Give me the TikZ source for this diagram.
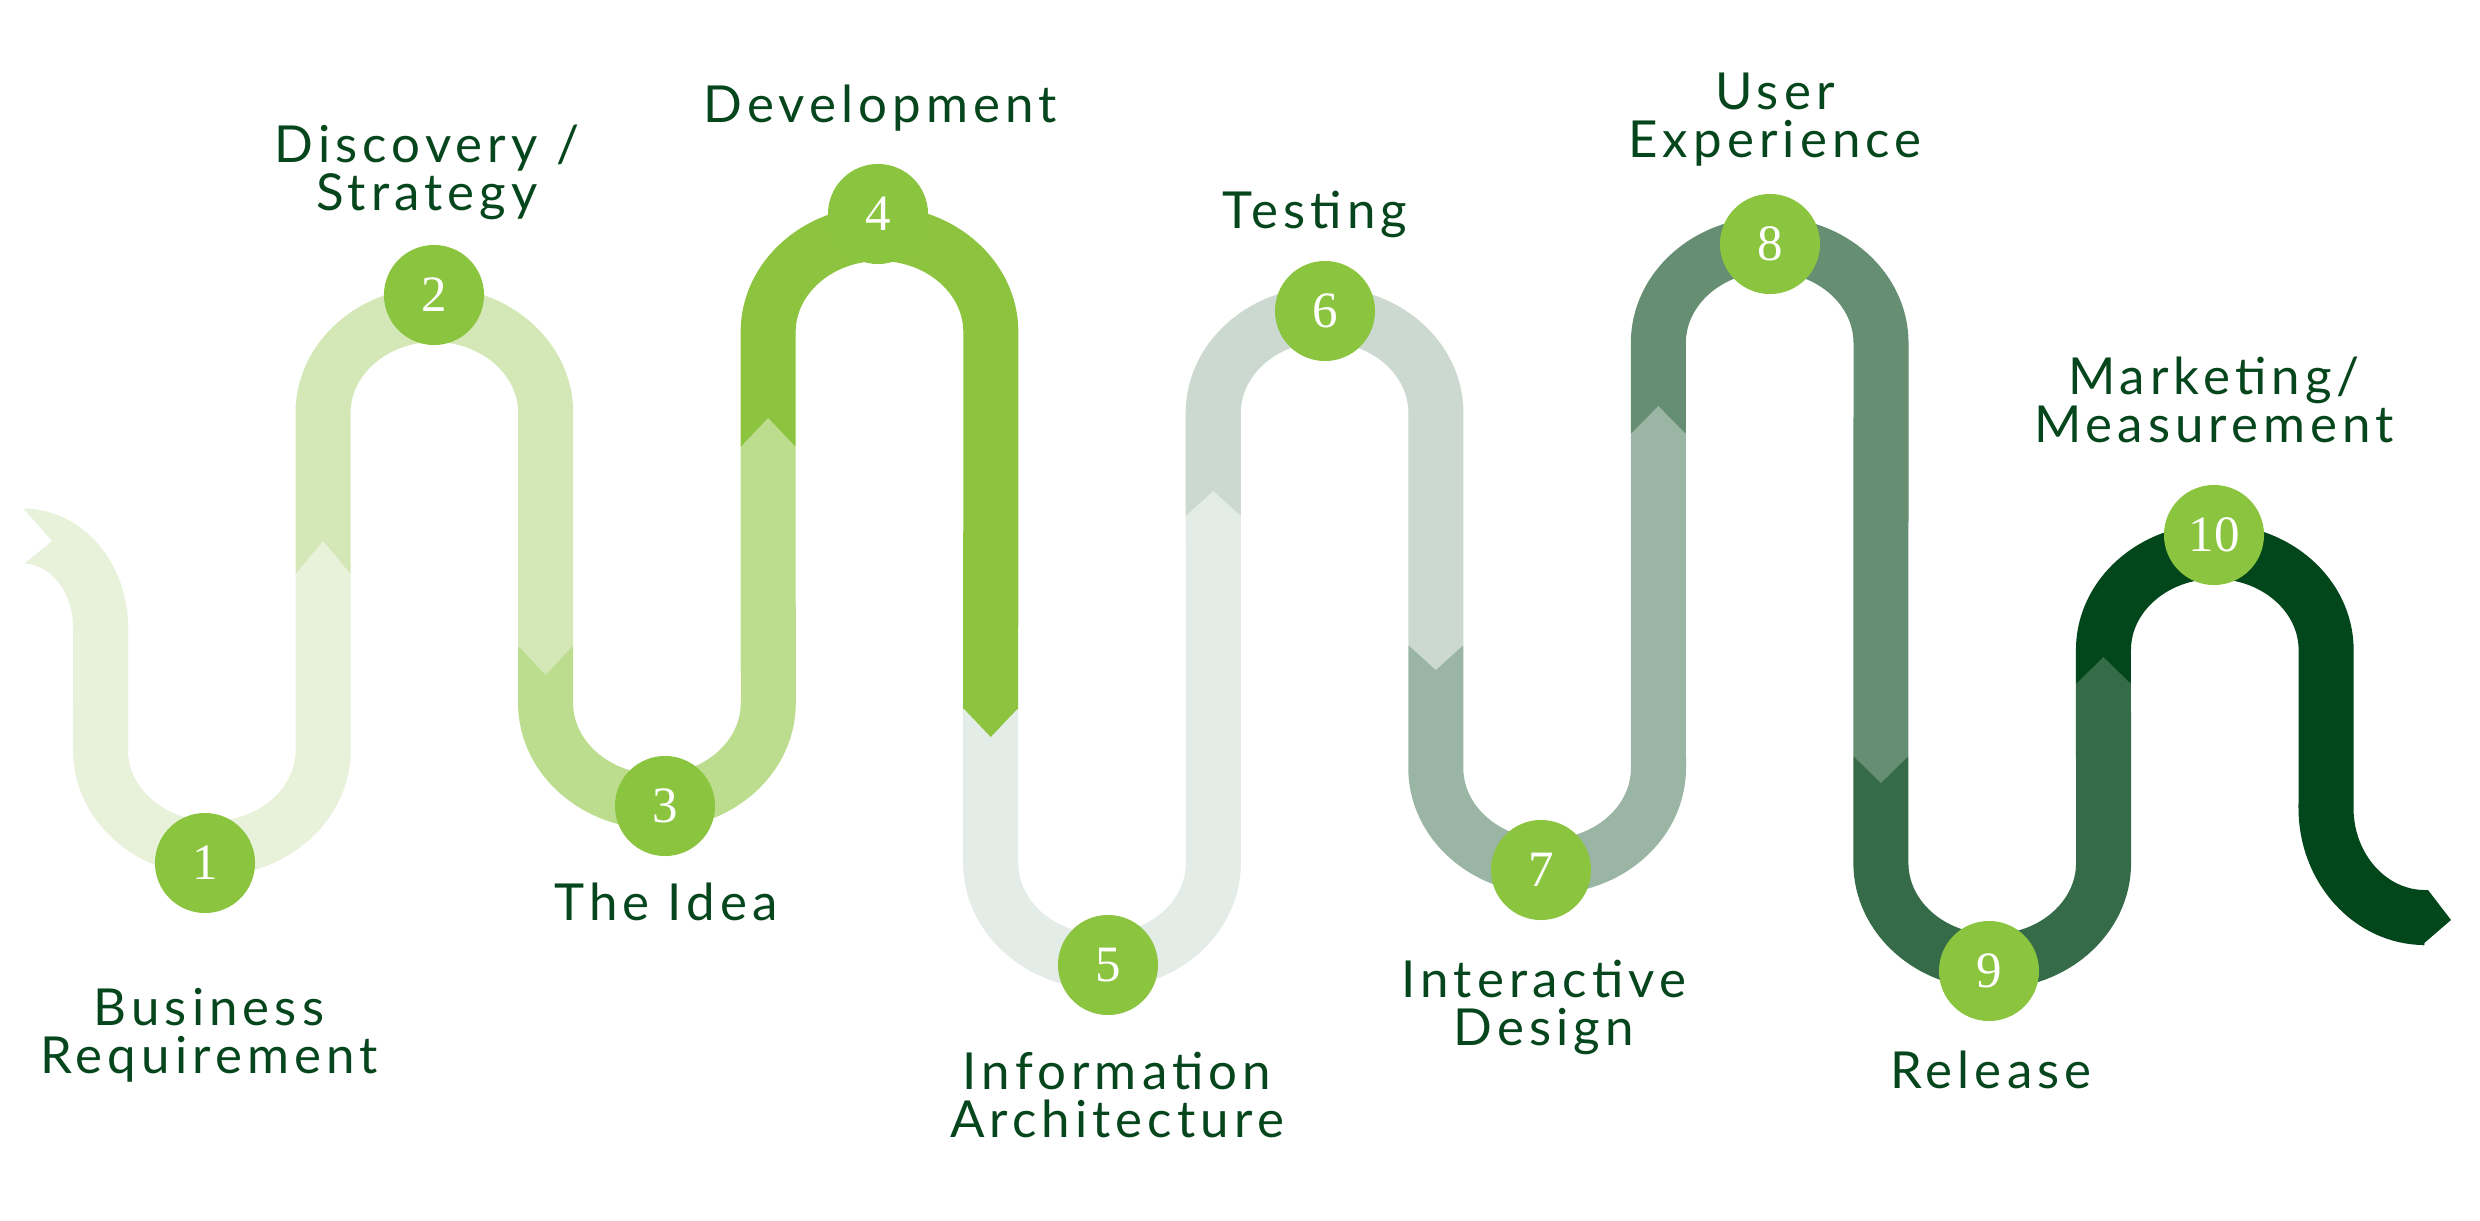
\documentclass[tikz,border=0pt]{standalone}
\usepackage{fontspec}
\newfontfamily\labelfont{Lato}[LetterSpace=10]
\newfontfamily\numfont{Liberation Serif}

% ribbon segment colours, light to dark
\definecolor{s1}{HTML}{E8F2DA}
\definecolor{s2}{HTML}{D3E8B6}
\definecolor{s3}{HTML}{BBDD8D}
\definecolor{s4}{HTML}{8CC43F}
\definecolor{s5}{HTML}{E4ECE7}
\definecolor{s6}{HTML}{CCD9D0}
\definecolor{s7}{HTML}{9AB5A3}
\definecolor{s8}{HTML}{668E73}
\definecolor{s9}{HTML}{356B48}
\definecolor{s10}{HTML}{02461B}
\definecolor{dotgreen}{HTML}{8BC540}
\definecolor{textgreen}{HTML}{06461D}

\tikzset{
  ribbon/.style={line width=0.55cm, line cap=butt, line join=round},
  uturn/.style={x radius=1.11275cm, y radius=0.985cm},
  stepdot/.style={circle, fill=dotgreen, minimum size=1cm, inner sep=0pt,
    text=white, font=\numfont\fontsize{14.5pt}{14.5pt}\selectfont},
  caption/.style={align=center, anchor=base, inner sep=0pt, text=textgreen,
    font=\labelfont\fontsize{14.5pt}{13.4pt}\selectfont}
}

\begin{document}
\begin{tikzpicture}[x=0.01cm, y=0.01cm]
  \fill[white] (0,0) rectangle (2480,-1221);
  \path[use as bounding box] (0,0) rectangle (2480,-1221);

  % segment 10 with the pointed end
  \draw[ribbon, s10] (2103.45,-683) -- (2103.45,-650)
    arc[start angle=180, end angle=0, uturn] -- (2326,-808)
    arc[start angle=180, end angle=270, x radius=0.99cm, y radius=1.095cm];
  \fill[s10] (2424,-890) -- (2428,-890) -- (2451,-920) -- (2422,-945) -- (2424,-945) -- cycle;

  % segment 9
  \draw[ribbon, s9] (1880.9,-757) -- (1880.9,-863)
    arc[start angle=180, end angle=360, uturn] -- (2103.45,-683);
  \fill[s9] (2075.95,-684) -- (2103.45,-657) -- (2130.95,-684) -- cycle;

  % segment 8
  \draw[ribbon, s8] (1658.35,-433) -- (1658.35,-343)
    arc[start angle=180, end angle=0, uturn] -- (1880.9,-757);
  \fill[s8] (1853.4,-756) -- (1880.9,-783) -- (1908.4,-756) -- cycle;

  % segment 7
  \draw[ribbon, s7] (1435.8,-646) -- (1435.8,-768)
    arc[start angle=180, end angle=360, uturn] -- (1658.35,-433);
  \fill[s7] (1630.85,-434) -- (1658.35,-406) -- (1685.85,-434) -- cycle;

  % segment 6
  \draw[ribbon, s6] (1213.25,-515) -- (1213.25,-413)
    arc[start angle=180, end angle=0, uturn] -- (1435.8,-646);
  \fill[s6] (1408.3,-645) -- (1435.8,-670) -- (1463.3,-645) -- cycle;

  % segment 5
  \draw[ribbon, s5] (990.7,-709) -- (990.7,-863)
    arc[start angle=180, end angle=360, uturn] -- (1213.25,-515);
  \fill[s5] (1185.75,-516) -- (1213.25,-491) -- (1240.75,-516) -- cycle;

  % segment 4
  \draw[ribbon, s4] (768.15,-446) -- (768.15,-332)
    arc[start angle=180, end angle=0, uturn] -- (990.7,-709);
  \fill[s4] (963.2,-708) -- (990.7,-737) -- (1018.2,-708) -- cycle;

  % segment 3
  \draw[ribbon, s3] (545.6,-646.5) -- (545.6,-703)
    arc[start angle=180, end angle=360, uturn] -- (768.15,-446);
  \fill[s3] (740.65,-447) -- (768.15,-418) -- (795.65,-447) -- cycle;

  % segment 2
  \draw[ribbon, s2] (323.05,-573) -- (323.05,-413)
    arc[start angle=180, end angle=0, uturn] -- (545.6,-646.5);
  \fill[s2] (518.1,-645.5) -- (545.6,-675) -- (573.1,-645.5) -- cycle;

  % segment 1 with the notched start
  \draw[ribbon, s1] (23,-536)
    arc[start angle=90, end angle=0, x radius=0.775cm, y radius=0.91cm] -- (100.5,-750)
    arc[start angle=180, end angle=360, uturn] -- (323.05,-573);
  \fill[s1] (295.55,-574) -- (323.05,-541) -- (350.55,-574) -- cycle;
  \fill[white] (20,-505) -- (52,-541) -- (20,-567) -- cycle;

  % numbered stops
  \node[stepdot] (d1) at (205,-863) {1};
  \node[stepdot] (d2) at (434,-295) {2};
  \node[stepdot] (d3) at (665,-806) {3};
  \node[stepdot] (d4) at (878,-214) {4};
  \node[stepdot] (d5) at (1108,-965) {5};
  \node[stepdot] (d6) at (1325,-311) {6};
  \node[stepdot] (d7) at (1541,-870) {7};
  \node[stepdot] (d8) at (1770,-244) {8};
  \node[stepdot] (d9) at (1989,-971) {9};
  \node[stepdot] (d10) at (2214,-535) {10};

  % stage names (two-line names sit on the baseline of their last line)
  \node[caption] (t1) at (209,-1073) {Business\\Requirement};
  \node[caption] (t2) at (427,-210) {Discovery /\\Strategy};
  \node[caption] (t3) at (666,-920) {The Idea};
  \node[caption] (t4) at (880,-122) {Development};
  \node[caption] (t5) at (1117,-1137) {Information\\Architecture};
  \node[caption] (t6) at (1315,-228) {Testing};
  \node[caption] (t7) at (1544,-1045) {Interactive\\Design};
  \node[caption] (t8) at (1775,-157) {User\\Experience};
  \node[caption] (t9) at (1991,-1088) {Release};
  \node[caption] (t10) at (2214,-442) {Marketing/\\Measurement};
\end{tikzpicture}
\end{document}
